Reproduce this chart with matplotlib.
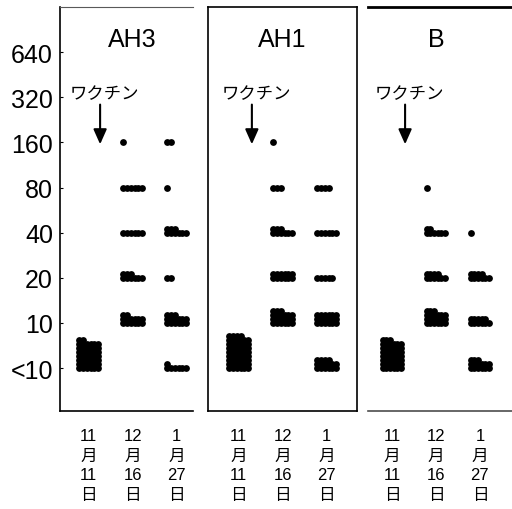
import numpy as np
import matplotlib.pyplot as plt

plt.rcParams['font.family'] = ['Liberation Sans', 'Noto Sans CJK JP', 'DejaVu Sans']

levels = ['<10', '10', '20', '40', '80', '160', '320', '640']
dates = ['11\n月\n11\n日', '12\n月\n16\n日', '1\n月\n27\n日']
panels = ['AH3', 'AH1', 'B']

# subjects at each titre (<10, 10, 20, 40, 80, 160) for the three sampling dates
ah3_counts = [[44, 0, 0, 0, 0, 0],
              [0, 14, 9, 6, 6, 1],
              [7, 15, 2, 9, 1, 2]]
ah1_counts = [[52, 0, 0, 0, 0, 0],
              [0, 21, 12, 9, 3, 1],
              [16, 18, 5, 6, 4, 0]]
b_counts = [[45, 0, 0, 0, 0, 0],
            [0, 21, 10, 8, 1, 0],
            [15, 11, 10, 1, 0, 0]]
all_counts = [ah3_counts, ah1_counts, b_counts]

# axes boxes in figure fraction and x limits for each panel
boxes = [[0.117, 0.192, 0.260, 0.792],
         [0.406, 0.192, 0.291, 0.792],
         [0.719, 0.192, 0.281, 0.792]]
xlims = [(0.347, 3.37), (0.30, 3.686), (0.46, 3.73)]
arrow_x = [1.26, 1.30, 1.30]

DX = 0.084   # horizontal spacing of dots in a row
DY = 0.089   # vertical spacing of stacked rows
PER_ROW = 6


def stack_dots(ax, col, level, n):
    idx = np.arange(n)
    xs = col - (PER_ROW - 1) / 2 * DX + (idx % PER_ROW) * DX
    ys = level + (idx // PER_ROW) * DY
    ax.scatter(xs, ys, s=24, c='k', linewidths=0, zorder=3)


fig = plt.figure(figsize=(5.12, 5.10), dpi=100)

for p, name in enumerate(panels):
    ax = fig.add_axes(boxes[p])
    counts = all_counts[p]
    for c, col_counts in enumerate(counts):
        for lv, n in enumerate(col_counts):
            if n > 0:
                stack_dots(ax, c + 1, lv, n)

    ax.set_xlim(*xlims[p])
    ax.set_ylim(-0.955, 8.0)

    ax.set_xticks([1, 2, 3])
    ax.set_xticklabels(dates, fontsize=12, linespacing=1.4)
    ax.tick_params(axis='x', length=0, pad=12)

    if p == 0:
        ax.set_yticks(range(len(levels)))
        ax.set_yticklabels(levels, fontsize=18)
        ax.tick_params(axis='y', length=2, direction='in', pad=5)
    else:
        ax.set_yticks([])

    ax.text(2, 7.3, name, ha='center', va='center', fontsize=18)

    # vaccination marker
    ax.text(arrow_x[p] + 0.1, 6.09, 'ワクチン', ha='center', va='center',
            fontsize=12.5, family=['Noto Sans CJK JP', 'DejaVu Sans'])
    ax.annotate('', xy=(arrow_x[p], 4.96), xytext=(arrow_x[p], 5.84),
                arrowprops=dict(arrowstyle='-|>,head_length=0.9,head_width=0.4',
                                lw=1.5, color='k', shrinkA=0, shrinkB=0))

    for s in ax.spines.values():
        s.set_linewidth(1.2)
    if p == 0:
        ax.spines['right'].set_visible(False)
        ax.spines['top'].set_linewidth(0.8)
        ax.spines['top'].set_color('0.35')
    elif p == 2:
        ax.spines['left'].set_visible(False)
        ax.spines['right'].set_visible(False)
        ax.spines['top'].set_linewidth(2.0)
        ax.spines['bottom'].set_color('0.3')

plt.savefig('out.png', dpi=100, facecolor='w')
